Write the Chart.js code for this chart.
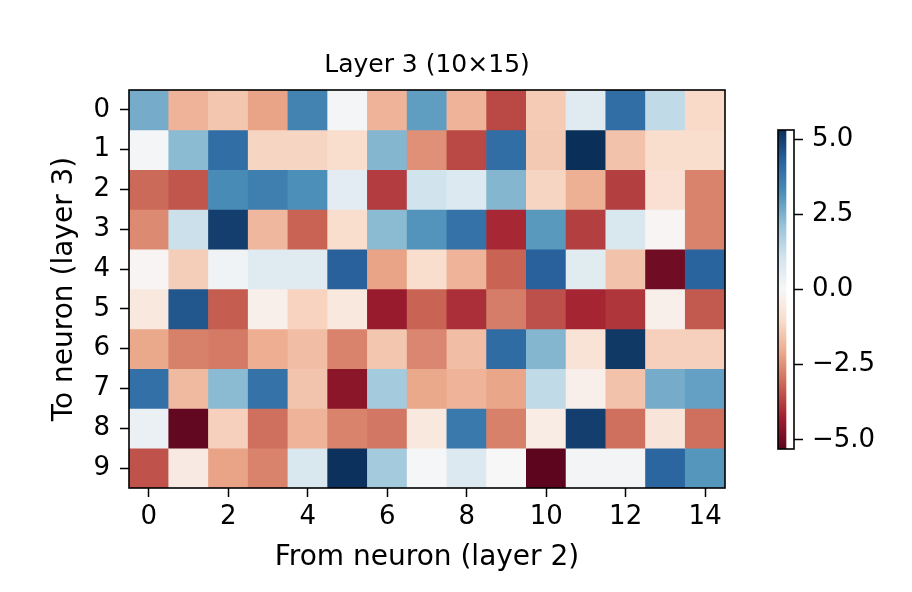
<!DOCTYPE html>
<html>
<head>
<meta charset="utf-8">
<script src="https://cdn.jsdelivr.net/npm/chart.js@4"></script>
<style>
  body { margin: 0; background: #fff; }
  #wrap { position: relative; width: 912px; height: 592px; }
  #wrap canvas { position: absolute; left: 0; top: 0; }
</style>
</head>
<body>
<div id="wrap">
  <canvas id="heat" width="912" height="592"></canvas>
  <canvas id="cbar" width="912" height="592"></canvas>
</div>
<script>
// columns (from neuron, layer 2) and rows (to neuron, layer 3)
const fromNeurons = [0, 1, 2, 3, 4, 5, 6, 7, 8, 9, 10, 11, 12, 13, 14];
const toNeurons = [0, 1, 2, 3, 4, 5, 6, 7, 8, 9];
const xTicks = [0, 2, 4, 6, 8, 10, 12, 14];
const cbTicks = [-5, -2.5, 0, 2.5, 5];
const vmax = 5.3;

// weights, one array per row
const row0 = [2.6, -1.9, -1.5, -2.2, 3.5, 0.1, -1.9, 2.9, -1.9, -3.6, -1.4, 0.7, 4.0, 1.4, -1.1];
const row1 = [0.1, 2.3, 4.0, -1.2, -1.2, -1.0, 2.4, -2.5, -3.6, 4.0, -1.45, 5.3, -1.6, -1.0, -1.0];
const row2 = [-3.1, -3.4, 3.3, 3.6, 3.2, 0.6, -3.8, 1.1, 0.8, 2.4, -1.2, -1.95, -3.75, -0.9, -2.7];
const row3 = [-2.6, 1.2, 5.0, -1.8, -3.2, -1.0, 2.3, 3.1, 3.9, -4.1, 3.0, -3.75, 0.9, -0.1, -2.7];
const row4 = [-0.1, -1.35, 0.2, 0.7, 0.7, 4.3, -2.2, -1.0, -1.9, -3.2, 4.3, 0.65, -1.6, -5.0, 4.25];
const row5 = [-0.6, 4.5, -3.3, -0.3, -1.25, -0.6, -4.4, -3.2, -4.0, -2.8, -3.5, -4.15, -3.9, -0.3, -3.35];
const row6 = [-2.1, -2.75, -2.85, -2.0, -1.7, -2.7, -1.5, -2.65, -1.7, 4.05, 2.4, -0.8, 5.1, -1.3, -1.3];
const row7 = [3.95, -1.75, 2.3, 3.9, -1.55, -4.6, 1.9, -2.1, -1.9, -2.15, 1.4, -0.3, -1.6, 2.6, 2.85];
const row8 = [0.4, -5.2, -1.3, -3.0, -1.9, -2.7, -2.9, -0.6, 3.75, -2.75, -0.45, 5.0, -3.0, -0.75, -3.0];
const row9 = [-3.45, -0.5, -2.2, -2.7, 0.9, 5.25, 1.9, 0.05, 0.8, 0.0, -5.3, 0.15, 0.15, 4.2, 3.05];
const weights = [row0, row1, row2, row3, row4, row5, row6, row7, row8, row9];

// RdBu anchor colours (low -> high), slightly desaturated like the reference
const rdbu = [
  [103, 0, 31], [178, 24, 43], [214, 96, 77], [244, 165, 130], [253, 219, 199],
  [247, 247, 247], [209, 229, 240], [146, 197, 222], [67, 147, 195], [33, 102, 172], [5, 48, 97]
];
const saturation = 0.85;

function toCss(c) {
  const l = 0.299 * c[0] + 0.587 * c[1] + 0.114 * c[2];
  const d = c.map(x => Math.round(l + (x - l) * saturation));
  return `rgb(${d[0]},${d[1]},${d[2]})`;
}

function colorFor(v) {
  let t = (v + vmax) / (2 * vmax);
  t = Math.max(0, Math.min(1, t));
  const pos = t * (rdbu.length - 1);
  const i = Math.min(Math.floor(pos), rdbu.length - 2);
  const f = pos - i;
  const a = rdbu[i], b = rdbu[i + 1];
  return toCss(a.map((x, k) => x + (b[k] - x) * f));
}

Chart.defaults.font.family = '"DejaVu Sans", sans-serif';
Chart.defaults.color = '#000';

// black box round the plot area
const frame = {
  id: 'frame',
  afterDraw(chart) {
    const a = chart.chartArea;
    const c = chart.ctx;
    c.save();
    c.strokeStyle = '#000';
    c.lineWidth = 1.6;
    c.strokeRect(a.left, a.top, a.right - a.left, a.bottom - a.top);
    c.restore();
  }
};

const datasets = weights.map((row, r) => ({
  label: 'to ' + toNeurons[r],
  data: row.map((v, c) => ({ x: fromNeurons[c], y: [r - 0.5, r + 0.5], v: v })),
  backgroundColor: ctx => colorFor(ctx.raw.v),
  borderWidth: 0,
  grouped: false,
  barPercentage: 1,
  categoryPercentage: 1,
  xAxisID: 'x',
  yAxisID: 'y'
}));

new Chart(document.getElementById('heat'), {
  type: 'bar',
  data: { datasets: datasets },
  options: {
    responsive: false,
    animation: false,
    devicePixelRatio: 1,
    layout: { padding: { left: 0, right: 187, top: 0, bottom: 0 } },
    plugins: {
      legend: { display: false },
      tooltip: { enabled: false }
    },
    scales: {
      x: {
        type: 'linear',
        min: -0.5,
        max: 14.5,
        offset: false,
        afterBuildTicks: s => { s.ticks = xTicks.map(v => ({ value: v })); },
        afterFit: s => { s.height = 104; },
        ticks: { font: { size: 26 }, padding: 5, autoSkip: false, callback: v => String(v) },
        grid: { offset: false, drawOnChartArea: false, tickLength: 9, tickWidth: 1.5, tickColor: '#000' },
        border: { display: false },
        title: { display: true, text: 'From neuron (layer 2)', font: { size: 28 }, padding: { bottom: 17.7 } }
      },
      y: {
        type: 'linear',
        reverse: true,
        min: -0.5,
        max: 9.5,
        afterBuildTicks: s => { s.ticks = toNeurons.map(v => ({ value: v })); },
        afterFit: s => { s.width = 129; },
        ticks: { font: { size: 26 }, padding: 10, autoSkip: false, callback: v => String(v) },
        grid: { drawOnChartArea: false, tickLength: 9, tickWidth: 1.5, tickColor: '#000' },
        border: { display: false },
        title: { display: true, text: 'To neuron (layer 3)', font: { size: 28 }, padding: { top: 48.2 } }
      },
      // top axis only carries the title, centred over the plot
      top: {
        type: 'linear',
        position: 'top',
        min: -0.5,
        max: 14.5,
        offset: false,
        afterFit: s => { s.height = 90; },
        ticks: { display: false },
        grid: { display: false, drawTicks: false, offset: false },
        border: { display: false },
        title: { display: true, text: 'Layer 3 (10×15)', font: { size: 25 }, padding: { top: 50.5, bottom: 0 } }
      }
    }
  },
  plugins: [frame]
});

// colour bar: one floating bar filled with the colormap gradient
new Chart(document.getElementById('cbar'), {
  type: 'bar',
  data: {
    labels: [''],
    datasets: [{
      data: [[-vmax, vmax]],
      backgroundColor: ctx => {
        const area = ctx.chart.chartArea;
        if (!area) return null;
        const g = ctx.chart.ctx.createLinearGradient(0, area.bottom, 0, area.top);
        rdbu.forEach((c, i) => g.addColorStop(i / (rdbu.length - 1), toCss(c)));
        return g;
      },
      borderWidth: 0,
      barPercentage: 1,
      categoryPercentage: 1
    }]
  },
  options: {
    responsive: false,
    animation: false,
    devicePixelRatio: 1,
    layout: { padding: { left: 778, right: 0, top: 130, bottom: 143 } },
    plugins: { legend: { display: false }, tooltip: { enabled: false } },
    scales: {
      x: { display: false, offset: false },
      y: {
        position: 'right',
        min: -vmax,
        max: vmax,
        afterBuildTicks: s => { s.ticks = cbTicks.map(v => ({ value: v })); },
        afterFit: s => { s.width = 912 - 794; },
        ticks: {
          font: { size: 26 },
          padding: 9,
          callback: v => (v < 0 ? '\u2212' : '') + Math.abs(v).toFixed(1)
        },
        grid: { drawOnChartArea: false, tickLength: 9, tickWidth: 1.5, tickColor: '#000' },
        border: { display: false }
      }
    }
  },
  plugins: [frame]
});
</script>
</body>
</html>
